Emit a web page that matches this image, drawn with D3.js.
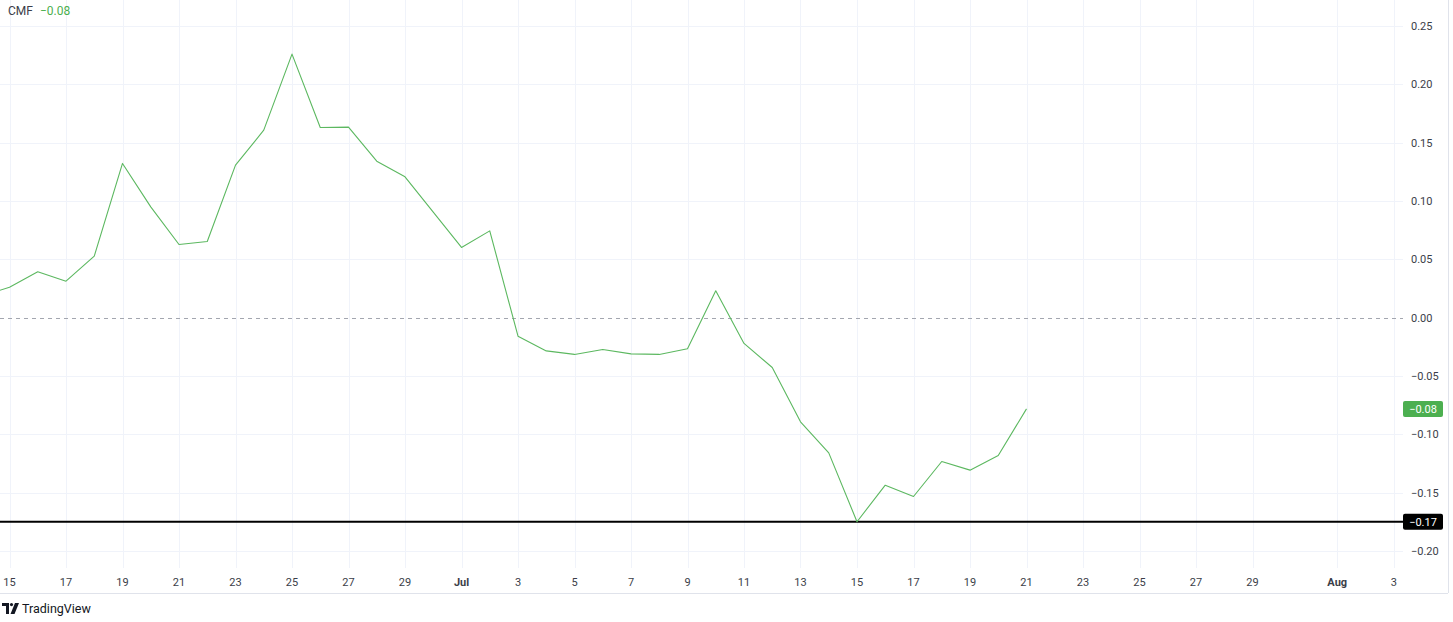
<!DOCTYPE html>
<html>
<head>
<meta charset="utf-8">
<script src="https://cdn.jsdelivr.net/npm/d3@7/dist/d3.min.js"></script>
<style>
  html, body { margin: 0; padding: 0; background: #ffffff; }
  svg { display: block; }
  text { font-family: Roboto, "Noto Sans", sans-serif; }
</style>
</head>
<body>
<svg id="chart" width="1453" height="622"></svg>
<script>
// ---- data (CMF daily values) ----
const dates = [
  "2024-06-14","2024-06-15","2024-06-16","2024-06-17","2024-06-18","2024-06-19","2024-06-20",
  "2024-06-21","2024-06-22","2024-06-23","2024-06-24","2024-06-25","2024-06-26","2024-06-27",
  "2024-06-28","2024-06-29","2024-06-30","2024-07-01","2024-07-02","2024-07-03","2024-07-04",
  "2024-07-05","2024-07-06","2024-07-07","2024-07-08","2024-07-09","2024-07-10","2024-07-11",
  "2024-07-12","2024-07-13","2024-07-14","2024-07-15","2024-07-16","2024-07-17","2024-07-18",
  "2024-07-19","2024-07-20","2024-07-21"
];
const cmfValues = [
  0.0184, 0.0261, 0.0393, 0.0313, 0.0527, 0.1322, 0.0950,
  0.0627, 0.0653, 0.1307, 0.1607, 0.2259, 0.1630, 0.1633,
  0.1341, 0.1207, 0.0904, 0.0602, 0.0744, -0.0159, -0.0285,
  -0.0315, -0.0273, -0.0310, -0.0315, -0.0267, 0.0230, -0.0221,
  -0.0427, -0.0893, -0.1159, -0.1749, -0.1436, -0.1533, -0.1233,
  -0.1307, -0.1181, -0.0782
];
const xTickDates = [
  "2024-06-15","2024-06-17","2024-06-19","2024-06-21","2024-06-23","2024-06-25","2024-06-27",
  "2024-06-29","2024-07-01","2024-07-03","2024-07-05","2024-07-07","2024-07-09","2024-07-11",
  "2024-07-13","2024-07-15","2024-07-17","2024-07-19","2024-07-21","2024-07-23","2024-07-25",
  "2024-07-27","2024-07-29","2024-08-01","2024-08-03"
];
const yTicks = [0.25, 0.20, 0.15, 0.10, 0.05, 0.00, -0.05, -0.10, -0.15, -0.20];
const indicatorName = "CMF";

// ---- layout ----
const W = 1453, H = 622;
const plotRight = 1403, plotBottom = 568, frameBottom = 593, frameRight = 1448;
const green = "#4caf50";
const lineGreen = "#5cb860";
const textColor = "#3b3e48";

const parse = d3.utcParse("%Y-%m-%d");
const data = dates.map((d, i) => ({ date: parse(d), v: cmfValues[i] }));

const x = d3.scaleUtc()
  .domain([parse("2024-06-15"), parse("2024-08-03")])
  .range([9.5, 9.5 + 49 * 28.25]);
const y = d3.scaleLinear().domain([-0.20, 0.25]).range([551, 26]);

const svg = d3.select("#chart");

svg.append("defs").append("clipPath").attr("id", "plotClip")
  .append("rect").attr("x", 0).attr("y", 0).attr("width", plotRight).attr("height", plotBottom);

// grid
const grid = svg.append("g");
grid.selectAll("line.v").data(xTickDates.map(parse)).join("line")
  .attr("x1", d => Math.round(x(d)) + 0.5).attr("x2", d => Math.round(x(d)) + 0.5)
  .attr("y1", 0).attr("y2", plotBottom)
  .attr("stroke", "#f0f3fa").attr("stroke-width", 1);
grid.selectAll("line.h").data(yTicks.filter(t => t !== 0)).join("line")
  .attr("x1", 0).attr("x2", plotRight)
  .attr("y1", d => Math.round(y(d)) + 0.5).attr("y2", d => Math.round(y(d)) + 0.5)
  .attr("stroke", "#f0f3fa").attr("stroke-width", 1);

// zero dashed line
svg.append("line")
  .attr("x1", 0).attr("x2", plotRight)
  .attr("y1", Math.round(y(0)) + 0.5).attr("y2", Math.round(y(0)) + 0.5)
  .attr("stroke", "#a3a6af").attr("stroke-width", 1).attr("stroke-dasharray", "4,4");

// frame lines
svg.append("line").attr("x1", 0).attr("x2", frameRight).attr("y1", frameBottom + 0.5).attr("y2", frameBottom + 0.5)
  .attr("stroke", "#e0e3eb");
svg.append("line").attr("x1", frameRight + 0.5).attr("x2", frameRight + 0.5).attr("y1", 0).attr("y2", frameBottom)
  .attr("stroke", "#e0e3eb");

// min horizontal line
const minVal = d3.min(cmfValues);
svg.append("line")
  .attr("x1", 0).attr("x2", plotRight)
  .attr("y1", y(minVal)).attr("y2", y(minVal))
  .attr("stroke", "#000000").attr("stroke-width", 2);

// CMF line
const line = d3.line().x(d => x(d.date)).y(d => y(d.v));
svg.append("path").datum(data)
  .attr("clip-path", "url(#plotClip)")
  .attr("d", line)
  .attr("fill", "none")
  .attr("stroke", lineGreen)
  .attr("stroke-width", 1.1)
  .attr("stroke-linejoin", "round");

// y axis labels
const fmt = v => {
  const s = Math.abs(v).toFixed(2);
  return v < -1e-9 ? "\u2212" + s : s;
};
svg.append("g").selectAll("text").data(yTicks).join("text")
  .attr("x", 1411).attr("y", d => y(d)).attr("dy", "0.35em")
  .attr("font-size", 11).attr("fill", textColor)
  .text(d => fmt(d));

// x axis labels
const monthFmt = d3.utcFormat("%b");
svg.append("g").selectAll("text").data(xTickDates.map(parse)).join("text")
  .attr("x", d => x(d)).attr("y", 582).attr("dy", "0.35em")
  .attr("text-anchor", "middle")
  .attr("font-size", 11).attr("fill", textColor)
  .attr("font-weight", d => d.getUTCDate() === 1 ? "bold" : "normal")
  .text(d => d.getUTCDate() === 1 ? monthFmt(d) : String(d.getUTCDate()));

// badges
function badge(val, fill, txt) {
  const cy = y(val);
  svg.append("rect").attr("x", 1403).attr("y", cy - 8).attr("width", 40).attr("height", 16)
    .attr("rx", 2).attr("fill", fill);
  svg.append("text").attr("x", 1423).attr("y", cy).attr("dy", "0.35em")
    .attr("text-anchor", "middle").attr("font-size", 11).attr("fill", "#ffffff")
    .text(txt);
}
const lastVal = cmfValues[cmfValues.length - 1];
badge(lastVal, green, fmt(+lastVal.toFixed(2)));
badge(minVal, "#000000", fmt(+minVal.toFixed(2)));

// legend
const legend = svg.append("text").attr("x", 8).attr("y", 11).attr("dy", "0.35em").attr("font-size", 12);
legend.append("tspan").attr("fill", "#3b3e48").text(indicatorName);
legend.append("tspan").attr("dx", 7).attr("fill", green).text(fmt(+lastVal.toFixed(2)));

// TradingView logo
const logo = svg.append("g").attr("transform", "translate(2,603)");
logo.append("path").attr("fill", "#131722")
  .attr("d", "M0 0 H7 V11 H4 V3 H0 Z");
logo.append("circle").attr("cx", 9.5).attr("cy", 1.6).attr("r", 1.6).attr("fill", "#131722");
logo.append("path").attr("fill", "#131722").attr("d", "M13 0 H17 L12.5 11 H8.5 Z");
svg.append("text").attr("x", 22).attr("y", 609).attr("dy", "0.35em")
  .attr("font-size", 12.5).attr("fill", "#131722").text("TradingView");
</script>
</body>
</html>
